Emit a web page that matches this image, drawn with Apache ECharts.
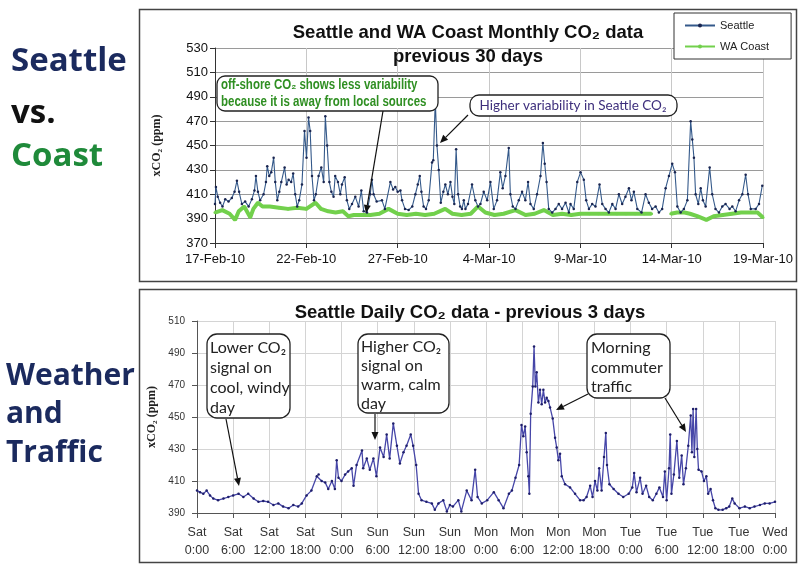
<!DOCTYPE html>
<html><head><meta charset="utf-8">
<script src="https://cdn.jsdelivr.net/npm/echarts/dist/echarts.min.js"></script>
<style>html,body{margin:0;padding:0;background:#fff}#c{width:801px;height:570px}</style>
</head><body><div id="c"></div>
<script>
// ---- Top chart: days since 17-Feb-10 ----
const topTickLabels = ['17-Feb-10','22-Feb-10','27-Feb-10','4-Mar-10','9-Mar-10','14-Mar-10','19-Mar-10'];
const seattleDay = [0.0,0.05,0.15,0.28,0.41,0.56,0.74,0.92,1.07,1.2,1.32,1.47,1.65,1.84,2.02,2.16,2.24,2.35,2.47,2.66,2.79,2.86,2.97,3.08,3.21,3.3,3.41,3.52,3.63,3.81,3.92,4.03,4.17,4.28,4.39,4.5,4.61,4.76,4.9,5.01,5.12,5.21,5.31,5.42,5.52,5.67,5.82,5.95,6.04,6.14,6.26,6.37,6.49,6.58,6.73,6.86,6.95,7.1,7.22,7.35,7.5,7.68,7.86,8.01,8.14,8.32,8.5,8.59,8.68,8.85,9.14,9.3,9.6,9.75,9.87,10.0,10.15,10.24,10.4,10.6,10.8,10.97,11.1,11.21,11.3,11.42,11.55,11.7,11.88,11.95,12.06,12.15,12.25,12.36,12.5,12.61,12.75,12.89,13.0,13.1,13.2,13.31,13.42,13.52,13.62,13.71,13.85,14.07,14.25,14.4,14.53,14.71,14.9,15.08,15.26,15.44,15.62,15.75,15.9,16.08,16.17,16.3,16.45,16.63,16.81,16.99,17.14,17.27,17.45,17.63,17.82,17.95,18.05,18.15,18.27,18.46,18.64,18.82,19.0,19.19,19.37,19.46,19.64,19.83,20.01,20.19,20.32,20.47,20.65,20.83,21.05,21.2,21.38,21.56,21.75,21.93,22.11,22.29,22.47,22.66,22.8,22.93,23.12,23.35,23.57,23.75,23.93,24.12,24.3,24.48,24.67,24.85,25.03,25.18,25.31,25.49,25.67,25.86,26.04,26.13,26.22,26.31,26.46,26.59,26.71,26.86,27.08,27.22,27.4,27.59,27.77,27.95,28.17,28.32,28.5,28.69,28.87,29.05,29.18,29.33,29.6,29.78,29.96];
const seattleCO2 = [402,416,408,403,400,406,404,407,412,421,412,402,404,400,406,413,425,412,405,410,420,433,425,428,440,420,405,412,420,432,418,422,420,427,410,400,405,418,462,440,473,462,425,405,410,425,432,420,474,450,420,412,408,425,420,410,418,424,405,398,402,408,400,413,396,395,410,422,410,404,405,398,420,414,416,412,413,405,398,397,400,410,418,425,412,400,398,405,436,438,487,450,430,403,412,418,410,420,408,402,447,410,400,398,405,398,402,418,405,400,402,412,405,420,398,405,428,415,425,448,410,400,398,405,412,405,420,402,398,410,425,452,435,420,398,395,398,402,398,403,395,402,398,420,428,422,405,398,402,400,418,402,398,395,402,398,410,402,408,415,405,412,398,395,410,403,398,400,395,398,415,425,435,428,400,395,398,405,470,455,440,410,402,415,405,400,432,410,398,395,400,402,398,400,396,405,410,426,410,398,398,402,417];
const coastDay = [0,0.4,0.8,1.1,1.3,1.6,1.93,2.1,2.35,2.6,3.0,3.5,4.0,4.5,5.0,5.5,5.8,6.2,6.6,7.0,7.3,7.6,8.0,8.5,9.0,9.5,10.0,10.5,11.0,11.5,12.0,12.6,13.0,13.5,14.0,14.4,14.8,15.3,15.8,16.45,17.0,17.5,18.0,18.5,19.0,19.5,20.0,20.5,21.0,21.5,22.0,22.5,23.0,23.5,23.9,24.4,24.95,25.3,25.7,26.0,26.4,26.9,27.3,27.8,28.3,28.8,29.3,29.7,30.0];
const coastCO2 = [395,397,394,389,396,400,391,398,403,400,400,399,398,399,398,403,398,396,395,396,392,393,393,393,394,398,394,393,394,393,394,398,394,393,394,400,395,393,394,397,393,394,397,393,394,393,394,394,394,394,394,394,394,394,394,'-',394,395,395,394,392,389,392,393,394,395,395,395,391];

// ---- Bottom chart: hours since Sat 0:00 ----
const bottomTickLabels = ['Sat\n0:00','Sat\n6:00','Sat\n12:00','Sat\n18:00','Sun\n0:00','Sun\n6:00','Sun\n12:00','Sun\n18:00','Mon\n0:00','Mon\n6:00','Mon\n12:00','Mon\n18:00','Tue\n0:00','Tue\n6:00','Tue\n12:00','Tue\n18:00','Wed\n0:00'];
const dailyHour = [0,0.5,1.05,1.6,2.16,2.7,3.5,4.4,5.2,6.0,6.9,7.7,8.5,9.4,10.2,11,11.8,12.7,13.5,14.3,15.2,16,16.8,17.4,18.2,19.0,19.9,20.2,20.7,21.3,21.8,22.4,22.9,23.2,23.5,24,24.6,25.1,25.7,26,26.5,27.4,27.6,28.2,28.7,29.3,29.8,30.4,31.0,31.5,32.0,32.6,33.2,33.7,34.3,34.8,35.5,35.9,36.4,36.8,37.3,38.1,39.0,39.5,40.1,40.9,41.5,42.0,42.5,43.4,43.9,44.8,45.6,46.2,46.6,47.3,48.2,49.3,50.1,50.9,51.8,52.3,52.9,53.5,53.9,54.2,54.5,54.76,55.04,55.2,55.42,55.76,55.98,56.2,56.42,56.7,56.98,57.25,57.53,57.81,58.08,58.36,58.64,59.08,59.47,59.74,60.02,60.3,60.58,61.13,61.96,62.79,63.62,64.2,64.7,65.3,65.7,66.1,66.5,66.8,67.2,67.6,67.9,68.1,68.5,69.2,70.0,70.8,71.7,72.3,72.6,73.0,73.6,74.0,74.6,75.1,75.7,76.3,76.8,77.4,77.7,78.0,78.4,78.6,78.8,79.2,79.7,80.1,80.5,80.8,81.2,81.6,82.0,82.2,82.4,82.6,82.9,83.1,83.3,83.8,84.2,84.6,84.9,85.3,85.7,86.1,86.6,87.3,87.9,88.4,88.9,89.3,90.1,91.0,91.8,92.6,93.5,94.3,95.1,96];
const dailyCO2 = [404,403,402,404,401,399,398,399,400,401,402,400,402,399,397,397.5,397,395,396,394,393,395,394,396,401,404,413,414,410,409,405,410,405,423,412,410,414,416,418,407,420,429,418,424,417,424,413,431,425,439,424,446,432,421,428,432,439,432,420,402,398,397,396,392,396,398,391,395,394,398,391,404,398,417,400,396,398,403,398,393,402,404,412,420,445,438,444,428,413,402,452,469,494,469,478,459,467,458,467,459,462,460,456,449,437,431,423,427,413,408,406,402,398,398,400,407,400,410,404,418,404,425,440,420,408,405,402,400,402,406,415,403,412,402,407,400,398,402,406,400,416,398,418,439,402,414,435,412,426,408,418,432,451,428,455,425,455,430,417,416,410,413,402,405,398,393,392,392,393,394,399,396,393,394,393,394,395,396,396,397];

const chart = echarts.init(document.getElementById('c'));

function arrow(x1, y1, x2, y2) {
  const ang = Math.atan2(y2 - y1, x2 - x1), L = 8, W = 3.5;
  const bx = x2 - L * Math.cos(ang), by = y2 - L * Math.sin(ang);
  const px = -Math.sin(ang) * W, py = Math.cos(ang) * W;
  return [
    {type: 'line', z: 100, shape: {x1, y1, x2: bx, y2: by}, style: {stroke: '#111', lineWidth: 1.2}},
    {type: 'polygon', z: 100, shape: {points: [[x2, y2], [bx + px, by + py], [bx - px, by - py]]}, style: {fill: '#111'}}
  ];
}
function txt(x, y, text, font, fill, align, sx) {
  return {type: 'text', z: 101, x, y, scaleX: sx || 1, style: {text, font, fill, textAlign: align || 'left', textVerticalAlign: 'middle'}};
}
function box(x, y, w, h, r) {
  return {type: 'rect', z: 99, shape: {x, y, width: w, height: h, r: r}, style: {fill: '#fff', stroke: '#222', lineWidth: 1.3}};
}

const bigTop = 'bold 33px "Open Sans"';
const bigBot = 'bold 30px "Open Sans"';
const navy = '#1b2a5e';
const boxFont = '16px Lato';
const greenFont = 'bold 14px "Liberation Sans"';
const graphics = [
  {type: 'rect', z: -1, shape: {x: 139.5, y: 9.5, width: 657, height: 272}, style: {fill: 'none', stroke: '#444', lineWidth: 1.5}},
  {type: 'rect', z: -1, shape: {x: 139.5, y: 289.5, width: 657, height: 273}, style: {fill: 'none', stroke: '#444', lineWidth: 1.5}},
  txt(11, 62, 'Seattle', bigTop, navy),
  txt(11, 114, 'vs.', bigTop, '#111'),
  txt(11, 157, 'Coast', bigTop, '#1f8a3a'),
  txt(6, 376, 'Weather', bigBot, navy),
  txt(6, 414, 'and', bigBot, navy),
  txt(6, 453, 'Traffic', bigBot, navy),
  txt(468, 33, 'Seattle and WA Coast Monthly CO\u2082 data', 'bold 18.5px "Liberation Sans"', '#111', 'center'),
  txt(468, 57, 'previous 30 days', 'bold 18.5px "Liberation Sans"', '#111', 'center'),
  txt(470, 313, 'Seattle Daily CO\u2082 data - previous 3 days', 'bold 18.5px "Liberation Sans"', '#111', 'center'),
  box(217, 76, 221, 35, 8),
  txt(221, 85, 'off-shore CO\u2082 shows less variability', greenFont, '#2f8f22', 'left', 0.82),
  txt(221, 102, 'because it is away from local sources', greenFont, '#2f8f22', 'left', 0.82),
  box(470, 95, 207, 21, 9),
  txt(573, 105.5, 'Higher variability in Seattle CO\u2082', '13.5px Lato', '#3d2e7c', 'center'),
  ...arrow(383, 111, 366, 213),
  ...arrow(468, 115, 440, 143),
  box(207, 334, 83, 84, 10),
  txt(210, 348, 'Lower CO\u2082', boxFont, '#222'),
  txt(210, 368, 'signal on', boxFont, '#222'),
  txt(210, 388, 'cool, windy', boxFont, '#222'),
  txt(210, 408, 'day', boxFont, '#222'),
  box(358, 334, 91, 79, 10),
  txt(361, 347, 'Higher CO\u2082', boxFont, '#222'),
  txt(361, 366, 'signal on', boxFont, '#222'),
  txt(361, 385, 'warm, calm', boxFont, '#222'),
  txt(361, 404, 'day', boxFont, '#222'),
  box(587, 334, 83, 64, 10),
  txt(591, 348, 'Morning', boxFont, '#222'),
  txt(591, 368, 'commuter', boxFont, '#222'),
  txt(591, 387, 'traffic', boxFont, '#222'),
  ...arrow(226, 419, 239, 486),
  ...arrow(375, 414, 375, 440),
  ...arrow(588, 394, 556, 410),
  ...arrow(665, 398, 686, 432)
];

const axisFont = '"Liberation Sans"';
chart.setOption({
  animation: false,
  backgroundColor: '#fff',
  graphic: graphics,
  legend: {
    data: ['Seattle', 'WA Coast'], orient: 'vertical', left: 674, top: 13,
    backgroundColor: '#fff', borderColor: '#333', borderWidth: 1,
    padding: [7, 22, 7, 10], itemGap: 10, itemWidth: 30, itemHeight: 5,
    textStyle: {fontSize: 11, fontFamily: axisFont, color: '#222'}
  },
  grid: [
    {left: 215, top: 48, width: 548, height: 195},
    {left: 197, top: 321, width: 578, height: 192}
  ],
  xAxis: [
    {gridIndex: 0, type: 'value', min: 0, max: 30, interval: 5,
     axisLine: {lineStyle: {color: '#333'}}, axisTick: {lineStyle: {color: '#333'}},
     splitLine: {show: true, lineStyle: {color: '#c8c8c8'}},
     axisLabel: {formatter: v => topTickLabels[Math.round(v / 5)], fontSize: 13, fontFamily: axisFont, color: '#111', margin: 10}},
    {gridIndex: 1, type: 'value', min: 0, max: 96, interval: 6,
     axisLine: {lineStyle: {color: '#555'}}, axisTick: {lineStyle: {color: '#555'}},
     splitLine: {show: true, lineStyle: {color: '#d4d4d4'}},
     axisLabel: {formatter: v => bottomTickLabels[Math.round(v / 6)], fontSize: 12.5, lineHeight: 18, fontFamily: axisFont, color: '#333', margin: 11}}
  ],
  yAxis: [
    {gridIndex: 0, type: 'value', min: 370, max: 530, interval: 20,
     axisLine: {show: true, lineStyle: {color: '#333'}}, axisTick: {show: true, lineStyle: {color: '#333'}},
     splitLine: {lineStyle: {color: '#9a9a9a'}},
     axisLabel: {fontSize: 13, fontFamily: axisFont, color: '#111', margin: 7},
     name: 'xCO\u2082 (ppm)', nameLocation: 'middle', nameGap: 52,
     nameTextStyle: {fontFamily: '"Liberation Serif"', fontWeight: 'bold', fontSize: 12, color: '#222'}},
    {gridIndex: 1, type: 'value', min: 390, max: 510, interval: 20,
     axisLine: {show: true, lineStyle: {color: '#555'}}, axisTick: {show: true, lineStyle: {color: '#555'}},
     splitLine: {lineStyle: {color: '#d4d4d4'}},
     axisLabel: {fontSize: 10, fontFamily: axisFont, color: '#333', margin: 12},
     name: 'xCO\u2082 (ppm)', nameLocation: 'middle', nameGap: 34,
     nameTextStyle: {fontFamily: '"Liberation Serif"', fontWeight: 'bold', fontSize: 12, color: '#222'}}
  ],
  series: [
    {name: 'WA Coast', type: 'line', xAxisIndex: 0, yAxisIndex: 0,
     data: coastDay.map((d, i) => [d, coastCO2[i]]),
     symbol: 'circle', symbolSize: 3, showSymbol: true,
     lineStyle: {color: '#72d04c', width: 4}, itemStyle: {color: '#72d04c'}},
    {name: 'Seattle', type: 'line', xAxisIndex: 0, yAxisIndex: 0,
     data: seattleDay.map((d, i) => [d, seattleCO2[i]]),
     symbol: 'circle', symbolSize: 2.5, showSymbol: true,
     lineStyle: {color: '#34598a', width: 1.1}, itemStyle: {color: '#1a2550'}},
    {name: 'Seattle daily', type: 'line', xAxisIndex: 1, yAxisIndex: 1,
     data: dailyHour.map((h, i) => [h, dailyCO2[i]]),
     symbol: 'circle', symbolSize: 2.5, showSymbol: true,
     lineStyle: {color: '#4646a8', width: 1.3}, itemStyle: {color: '#1e1e6a'}}
  ]
});
</script></body></html>
